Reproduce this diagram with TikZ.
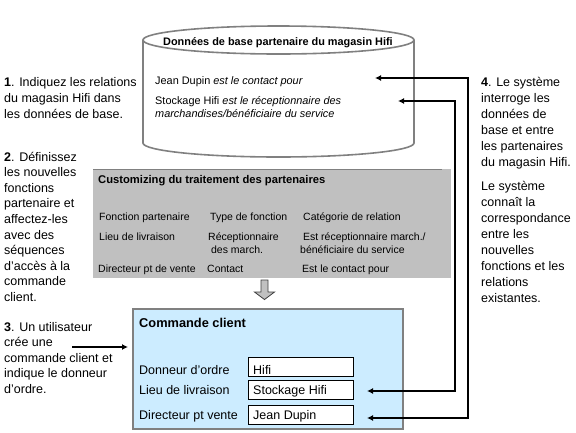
\documentclass[tikz,border=0pt]{standalone}
\usepackage{fontspec}
\setmainfont{Liberation Sans}
\usetikzlibrary{arrows.meta,calc}
\definecolor{cylgrey}{RGB}{128,128,128}
\definecolor{boxgrey}{RGB}{192,192,192}
\definecolor{lightblue}{RGB}{204,236,255}
\newcommand{\mlines}[1]{\begin{tabular}[t]{@{}l@{}}#1\end{tabular}}
\begin{document}
\begin{tikzpicture}[x=1pt,y=-1pt,
  txt/.style={anchor=base west,inner sep=0pt},
  side/.style={txt,font=\fontsize{12.5}{16}\selectfont},
  small/.style={txt,font=\fontsize{10.5}{13}\selectfont},
  cyltxt/.style={txt,font=\fontsize{10.9}{13}\selectfont},
  mid/.style={txt,font=\fontsize{12.5}{15}\selectfont},
  cyl/.style={draw=cylgrey,line width=1.6pt},
  field/.style={draw=black,fill=white,line width=1pt,anchor=north west,inner sep=0pt,minimum width=105pt,minimum height=18.5pt},
  arr/.style={line width=2pt,{Latex[length=6pt,width=6pt]}-{Latex[length=6pt,width=6pt]}},
  arrone/.style={line width=1.8pt,-{Latex[length=6pt,width=6pt]}}]
\useasboundingbox[fill=white] (0,0) rectangle (576,432);

% ---- cylinder (partner master data)
\draw[cyl,fill=white] (143,40) -- (143,143) arc[start angle=180,end angle=0,x radius=135.5,y radius=14] -- (414,40);
\draw[cyl] (278.5,40) ellipse[x radius=135.5,y radius=14];
\node[txt,font=\bfseries\fontsize{10.9}{13}\selectfont] (dbtitle) at (163,45) {Données de base partenaire du magasin Hifi};
\node[cyltxt] (db1) at (155,84) {Jean Dupin \textit{est le contact pour}};
\node[cyltxt] (db2) at (155,104) {\mlines{Stockage Hifi \textit{est le réceptionnaire des}\\\textit{marchandises/bénéficiaire du service}}};

% ---- customizing box
\node[fill=boxgrey,anchor=north west,inner sep=0pt,minimum width=358pt,minimum height=109pt] (cust) at (93,169) {};
\draw[cylgrey,line width=1pt] (cust.north west) -- ++(349,0);
\node[txt,font=\bfseries\fontsize{11.2}{13}\selectfont] (custtitle) at (98,183) {Customizing du traitement des partenaires};
\node[small] (h1) at (99,220) {Fonction partenaire};
\node[small] (h2) at (210,220) {Type de fonction};
\node[small] (h3) at (303,220) {Catégorie de relation};
\node[small] (r1a) at (99,240) {Lieu de livraison};
\node[small] (r1b) at (208,240) {\mlines{Réceptionnaire\\\ des march.}};
\node[small] (r1c) at (300,240) {\mlines{\ Est réceptionnaire march./\\bénéficiaire du service}};
\node[small] (r2a) at (98,272) {Directeur pt de vente};
\node[small] (r2b) at (207,272) {Contact};
\node[small] (r2c) at (302,272) {Est le contact pour};

% ---- hollow down arrow
\draw[fill=boxgrey,draw=black!75,line width=0.8pt] (261,280) -- (268,280) -- (268,292) -- (274.5,292) -- (264.5,299.5) -- (254.5,292) -- (261,292) -- cycle;

% ---- Commande client box
\node[draw=cylgrey,line width=1.6pt,fill=lightblue,anchor=north west,inner sep=0pt,minimum width=270pt,minimum height=120pt] (cc) at (132,308) {};
\node[txt,font=\bfseries\fontsize{12.8}{15}\selectfont] (cctitle) at (139,327) {Commande client};
\node[mid] (l1) at (139,374) {Donneur d'ordre};
\node[mid] (l2) at (139,394) {Lieu de livraison};
\node[mid] (l3) at (139,419) {Directeur pt vente};
\node[field] (f1) at (248,357) {};
\node[field] (f2) at (248,380) {};
\node[field] (f3) at (248,405) {};
\node[mid] (v1) at (253,374) {Hifi};
\node[mid] (v2) at (253,394) {Stockage Hifi};
\node[mid] (v3) at (253,419) {Jean Dupin};

% ---- side texts
\node[side] (s1) at (4,86) {\mlines{\textbf{1}. Indiquez les relations\\du magasin Hifi dans\\les données de base.}};
\node[side,font=\fontsize{12.5}{15.6}\selectfont] (s2) at (4,161) {\mlines{\textbf{2}. Définissez\\les nouvelles\\fonctions\\partenaire et\\affectez-les\\avec des\\séquences\\d'accès à la\\commande\\client.}};
\node[side,font=\fontsize{12.5}{15.6}\selectfont] (s3) at (4,331) {\mlines{\textbf{3}. Un utilisateur\\crée une\\commande client et\\indique le donneur\\d'ordre.}};
\node[side] (s4) at (481,86) {\mlines{\textbf{4}. Le système\\interroge les\\données de\\base et entre\\les partenaires\\du magasin Hifi.}};
\node[side] (s5) at (481,190) {\mlines{Le système\\connaît la\\correspondance\\entre les\\nouvelles\\fonctions et les\\relations\\existantes.}};

% ---- connectors
\coordinate (t1) at (375,78);
\coordinate (t2) at (398,101);
\coordinate (k1) at (468,418);
\coordinate (k2) at (455,391);
\coordinate (e1) at (367,418);
\coordinate (e2) at (367,391);
\draw[arr] (t1) -| (k1) -- (e1);
\draw[arr] (t2) -| (k2) -- (e2);
\coordinate (a3) at (72,347);
\coordinate (a3e) at (128,347);
\draw[arrone] (a3) -- (a3e);
\end{tikzpicture}
\end{document}
